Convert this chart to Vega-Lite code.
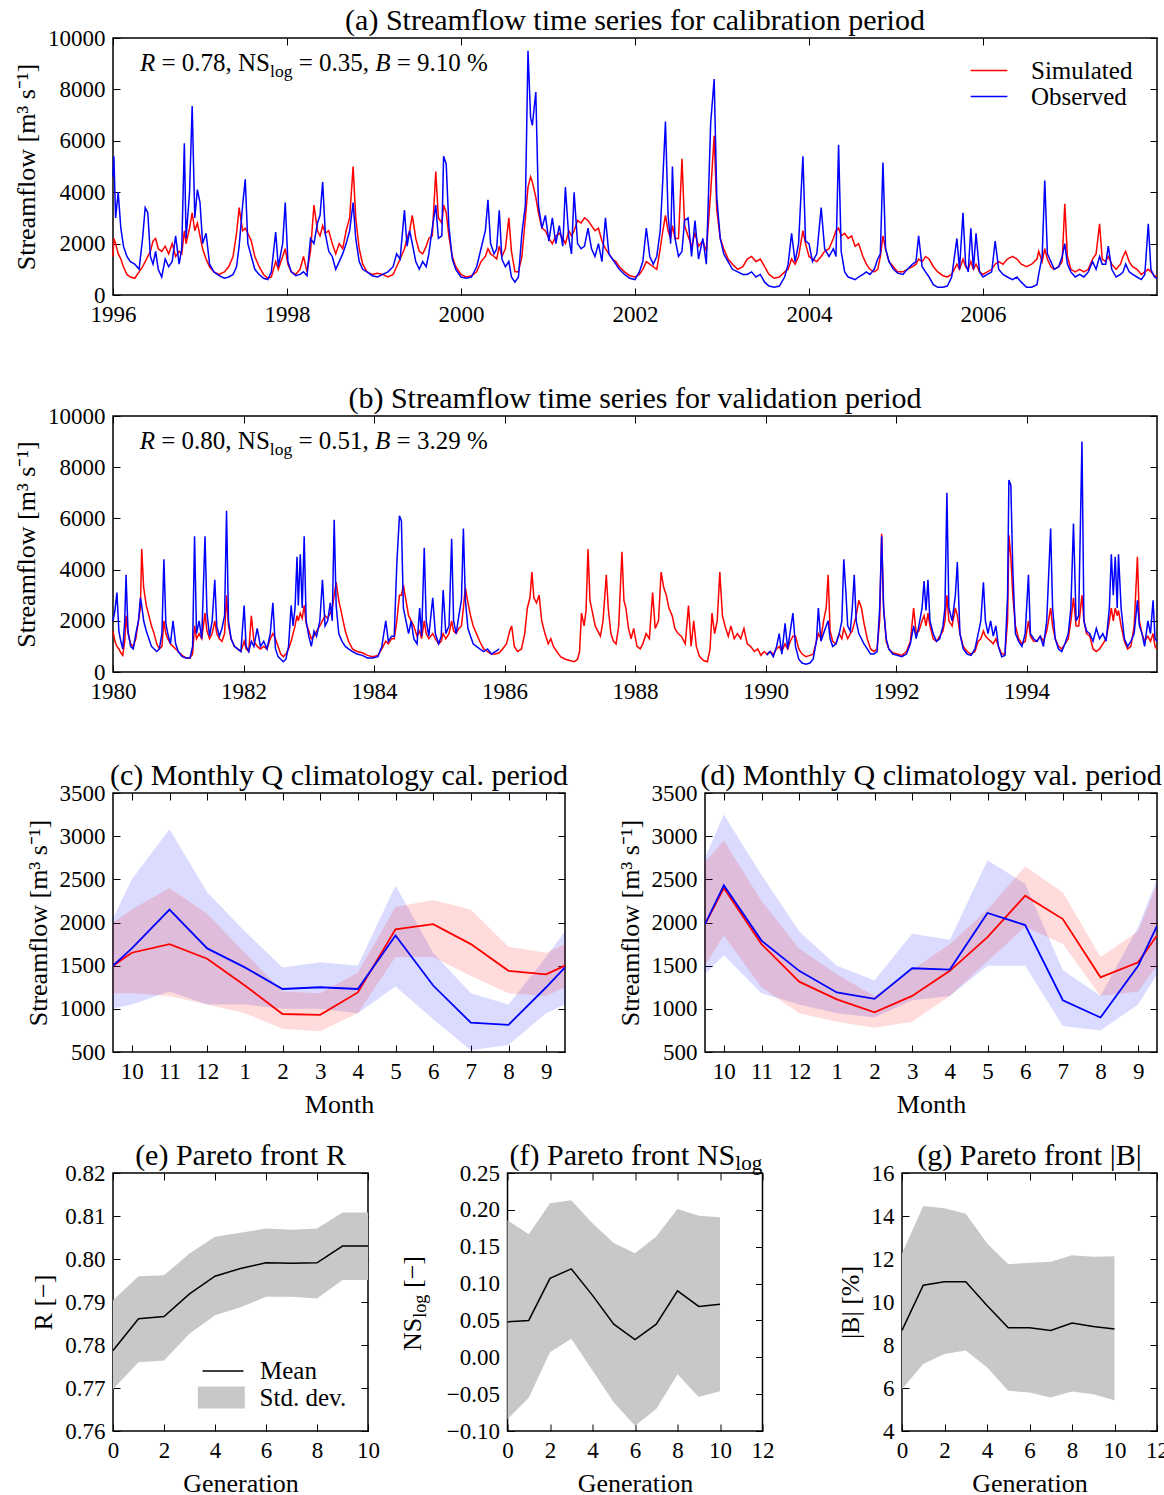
{
  "$schema": "https://vega.github.io/schema/vega-lite/v6.json",
  "background": "white",
  "padding": {"left": 12, "top": 5, "right": 0, "bottom": 5},
  "spacing": 22,
  "resolve": {"scale": {"color": "independent", "stroke": "independent", "fill": "independent"}, "legend": {"color": "independent", "stroke": "independent", "fill": "independent"}},
  "config": {
    "font": "Liberation Serif",
    "view": {"stroke": "black", "strokeWidth": 1.5},
    "axis": {
      "grid": false, "domain": false,
      "labelFont": "Liberation Serif", "labelFontSize": 23, "labelColor": "black",
      "titleFont": "Liberation Serif", "titleFontSize": 26, "titleFontWeight": "normal", "titleColor": "black",
      "tickColor": "black", "tickSize": -7, "tickWidth": 1, "labelPadding": 15, "titlePadding": 8,
      "labelFlush": false, "labelOverlap": false
    },
    "title": {"font": "Liberation Serif", "fontSize": 30, "fontWeight": "normal", "color": "black", "baseline": "alphabetic", "offset": -9, "frame": "group"},
    "legend": {"labelFont": "Liberation Serif", "labelFontSize": 25, "labelColor": "black", "padding": 0, "rowPadding": 0}
  },
  "datasets": {
    "cal": [
      {"t":1996.00,"s":1500,"o":4600},{"t":1996.01,"s":2200,"o":5400},{"t":1996.03,"s":2000,"o":3000},{"t":1996.06,"s":1600,"o":4000},
      {"t":1996.09,"s":1400,"o":2600},{"t":1996.12,"s":1100,"o":1900},{"t":1996.16,"s":800,"o":1500},{"t":1996.20,"s":700,"o":1300},
      {"t":1996.25,"s":650,"o":1200},{"t":1996.30,"s":900,"o":1000},{"t":1996.34,"s":1100,"o":2200},{"t":1996.37,"s":1300,"o":3400},
      {"t":1996.40,"s":1500,"o":3200},{"t":1996.43,"s":1700,"o":1500},{"t":1996.46,"s":2100,"o":1200},{"t":1996.49,"s":2200,"o":1700},
      {"t":1996.52,"s":1800,"o":1000},{"t":1996.56,"s":1700,"o":700},{"t":1996.60,"s":1900,"o":1400},{"t":1996.64,"s":1600,"o":1100},
      {"t":1996.68,"s":2000,"o":1300},{"t":1996.72,"s":1500,"o":2300},{"t":1996.76,"s":1700,"o":1200},{"t":1996.79,"s":1600,"o":1800},
      {"t":1996.82,"s":2500,"o":5900},{"t":1996.84,"s":2000,"o":2200},{"t":1996.88,"s":2600,"o":4000},{"t":1996.91,"s":3200,"o":7350},
      {"t":1996.94,"s":2500,"o":3000},{"t":1996.97,"s":2800,"o":4100},{"t":1997.00,"s":2300,"o":3600},{"t":1997.03,"s":1800,"o":2000},
      {"t":1997.07,"s":1400,"o":2400},{"t":1997.11,"s":1100,"o":1200},{"t":1997.16,"s":900,"o":900},{"t":1997.22,"s":800,"o":750},
      {"t":1997.28,"s":900,"o":650},{"t":1997.33,"s":1100,"o":700},{"t":1997.38,"s":1500,"o":800},{"t":1997.42,"s":2400,"o":1100},
      {"t":1997.45,"s":3400,"o":1900},{"t":1997.49,"s":2500,"o":3500},{"t":1997.52,"s":2600,"o":4500},{"t":1997.55,"s":2400,"o":2000},
      {"t":1997.59,"s":2100,"o":1500},{"t":1997.63,"s":1500,"o":1000},{"t":1997.68,"s":1100,"o":800},{"t":1997.73,"s":800,"o":650},
      {"t":1997.78,"s":650,"o":600},{"t":1997.82,"s":700,"o":900},{"t":1997.87,"s":1300,"o":2450},{"t":1997.90,"s":1000,"o":1100},
      {"t":1997.95,"s":1500,"o":2000},{"t":1997.98,"s":1800,"o":3600},{"t":1998.01,"s":1200,"o":1300},{"t":1998.05,"s":900,"o":900},
      {"t":1998.10,"s":800,"o":750},{"t":1998.15,"s":1000,"o":800},{"t":1998.19,"s":1500,"o":900},{"t":1998.23,"s":900,"o":750},
      {"t":1998.27,"s":1700,"o":2200},{"t":1998.31,"s":3500,"o":2000},{"t":1998.35,"s":2500,"o":2800},{"t":1998.38,"s":2300,"o":3100},
      {"t":1998.41,"s":2700,"o":4400},{"t":1998.44,"s":2400,"o":2400},{"t":1998.48,"s":2500,"o":1700},{"t":1998.52,"s":2000,"o":1500},
      {"t":1998.56,"s":1600,"o":1000},{"t":1998.60,"s":2000,"o":1300},{"t":1998.64,"s":1800,"o":1600},{"t":1998.68,"s":2500,"o":2000},
      {"t":1998.72,"s":3000,"o":2500},{"t":1998.76,"s":5000,"o":3600},{"t":1998.79,"s":3000,"o":2200},{"t":1998.83,"s":1800,"o":1300},
      {"t":1998.87,"s":1200,"o":1000},{"t":1998.92,"s":900,"o":900},{"t":1998.98,"s":800,"o":750},{"t":1999.04,"s":850,"o":700},
      {"t":1999.10,"s":800,"o":800},{"t":1999.16,"s":700,"o":900},{"t":1999.22,"s":800,"o":1100},{"t":1999.26,"s":1100,"o":1600},
      {"t":1999.30,"s":1400,"o":1400},{"t":1999.35,"s":1800,"o":3300},{"t":1999.38,"s":2200,"o":1900},{"t":1999.41,"s":2500,"o":2500},
      {"t":1999.44,"s":3100,"o":2000},{"t":1999.48,"s":2200,"o":1300},{"t":1999.52,"s":1700,"o":1000},{"t":1999.56,"s":1600,"o":1300},
      {"t":1999.60,"s":1900,"o":1100},{"t":1999.63,"s":2200,"o":1600},{"t":1999.67,"s":2300,"o":2600},{"t":1999.71,"s":4800,"o":3500},
      {"t":1999.74,"s":3000,"o":2200},{"t":1999.78,"s":2800,"o":2300},{"t":1999.80,"s":3500,"o":5400},{"t":1999.83,"s":3200,"o":5100},
      {"t":1999.86,"s":2300,"o":2700},{"t":1999.90,"s":1500,"o":1400},{"t":1999.94,"s":1100,"o":1000},{"t":2000.00,"s":800,"o":700},
      {"t":2000.06,"s":700,"o":650},{"t":2000.12,"s":750,"o":700},{"t":2000.18,"s":900,"o":1100},{"t":2000.23,"s":1300,"o":1800},
      {"t":2000.28,"s":1500,"o":2500},{"t":2000.31,"s":1800,"o":3700},{"t":2000.34,"s":1600,"o":2000},{"t":2000.38,"s":1500,"o":1600},
      {"t":2000.41,"s":1400,"o":1800},{"t":2000.44,"s":1900,"o":3300},{"t":2000.47,"s":1500,"o":1400},{"t":2000.51,"s":1800,"o":1100},
      {"t":2000.55,"s":3000,"o":1300},{"t":2000.58,"s":1700,"o":700},{"t":2000.62,"s":900,"o":500},{"t":2000.66,"s":900,"o":700},
      {"t":2000.70,"s":1500,"o":2400},{"t":2000.74,"s":3000,"o":3500},{"t":2000.77,"s":4200,"o":9500},{"t":2000.80,"s":4600,"o":6900},
      {"t":2000.82,"s":4400,"o":6600},{"t":2000.86,"s":3800,"o":7900},{"t":2000.89,"s":3200,"o":3500},{"t":2000.93,"s":2600,"o":2600},
      {"t":2000.97,"s":2500,"o":3100},{"t":2001.01,"s":2200,"o":2100},{"t":2001.05,"s":2000,"o":3000},{"t":2001.09,"s":2300,"o":2000},
      {"t":2001.13,"s":2400,"o":2700},{"t":2001.17,"s":2200,"o":1900},{"t":2001.20,"s":2000,"o":4200},{"t":2001.24,"s":2500,"o":2200},
      {"t":2001.27,"s":2300,"o":1600},{"t":2001.30,"s":2500,"o":4000},{"t":2001.34,"s":2900,"o":2000},{"t":2001.38,"s":2800,"o":1800},
      {"t":2001.42,"s":3000,"o":1900},{"t":2001.46,"s":2900,"o":2600},{"t":2001.50,"s":2700,"o":1800},{"t":2001.54,"s":2500,"o":1500},
      {"t":2001.58,"s":2600,"o":2000},{"t":2001.62,"s":2100,"o":1300},{"t":2001.66,"s":1800,"o":3000},{"t":2001.70,"s":1600,"o":1600},
      {"t":2001.74,"s":1400,"o":1400},{"t":2001.78,"s":1300,"o":1200},{"t":2001.82,"s":1100,"o":1000},{"t":2001.88,"s":900,"o":800},
      {"t":2001.94,"s":750,"o":650},{"t":2002.00,"s":700,"o":600},{"t":2002.05,"s":800,"o":900},{"t":2002.09,"s":1000,"o":1300},
      {"t":2002.13,"s":1300,"o":2600},{"t":2002.17,"s":1200,"o":1500},{"t":2002.21,"s":1100,"o":1200},{"t":2002.25,"s":1000,"o":1500},
      {"t":2002.29,"s":1800,"o":2500},{"t":2002.32,"s":2500,"o":4500},{"t":2002.35,"s":3100,"o":6750},{"t":2002.38,"s":2500,"o":3100},
      {"t":2002.41,"s":2200,"o":2000},{"t":2002.43,"s":2700,"o":5000},{"t":2002.46,"s":2200,"o":2200},{"t":2002.50,"s":2200,"o":1500},
      {"t":2002.54,"s":5300,"o":1700},{"t":2002.57,"s":2700,"o":2900},{"t":2002.61,"s":2300,"o":3000},{"t":2002.65,"s":1900,"o":1500},
      {"t":2002.69,"s":2400,"o":2900},{"t":2002.73,"s":1900,"o":1400},{"t":2002.78,"s":2100,"o":2200},{"t":2002.82,"s":1700,"o":1200},
      {"t":2002.87,"s":4000,"o":6700},{"t":2002.91,"s":6200,"o":8400},{"t":2002.94,"s":3300,"o":3800},{"t":2002.98,"s":2200,"o":2200},
      {"t":2003.02,"s":1800,"o":1600},{"t":2003.07,"s":1400,"o":1300},{"t":2003.12,"s":1200,"o":1000},{"t":2003.18,"s":1000,"o":900},
      {"t":2003.24,"s":1100,"o":800},{"t":2003.29,"s":1400,"o":800},{"t":2003.34,"s":1500,"o":900},{"t":2003.39,"s":1300,"o":700},
      {"t":2003.44,"s":1400,"o":800},{"t":2003.49,"s":1100,"o":500},{"t":2003.54,"s":800,"o":350},{"t":2003.60,"s":650,"o":300},
      {"t":2003.66,"s":700,"o":350},{"t":2003.72,"s":900,"o":700},{"t":2003.76,"s":1000,"o":1200},{"t":2003.80,"s":1400,"o":2400},
      {"t":2003.84,"s":1200,"o":1300},{"t":2003.88,"s":1500,"o":2000},{"t":2003.93,"s":2500,"o":5400},{"t":2003.96,"s":2000,"o":2100},
      {"t":2004.00,"s":1500,"o":2000},{"t":2004.04,"s":1400,"o":1300},{"t":2004.09,"s":1300,"o":1600},{"t":2004.14,"s":1500,"o":3400},
      {"t":2004.18,"s":1700,"o":1800},{"t":2004.23,"s":1800,"o":1500},{"t":2004.28,"s":2200,"o":1800},{"t":2004.31,"s":2500,"o":1500},
      {"t":2004.34,"s":2600,"o":5850},{"t":2004.37,"s":2300,"o":1700},{"t":2004.41,"s":2400,"o":900},{"t":2004.45,"s":2200,"o":700},
      {"t":2004.49,"s":2300,"o":650},{"t":2004.53,"s":1900,"o":600},{"t":2004.57,"s":2000,"o":700},{"t":2004.62,"s":1500,"o":800},
      {"t":2004.66,"s":1200,"o":900},{"t":2004.70,"s":1000,"o":800},{"t":2004.75,"s":900,"o":1000},{"t":2004.79,"s":1000,"o":1400},
      {"t":2004.82,"s":1500,"o":1600},{"t":2004.85,"s":2300,"o":5150},{"t":2004.88,"s":1800,"o":1800},{"t":2004.92,"s":1300,"o":1300},
      {"t":2004.97,"s":1100,"o":1000},{"t":2005.02,"s":900,"o":850},{"t":2005.08,"s":900,"o":800},{"t":2005.13,"s":1000,"o":1000},
      {"t":2005.19,"s":1100,"o":1200},{"t":2005.23,"s":1200,"o":1300},{"t":2005.26,"s":1400,"o":2300},{"t":2005.30,"s":1300,"o":1100},
      {"t":2005.34,"s":1500,"o":900},{"t":2005.38,"s":1400,"o":700},{"t":2005.43,"s":1100,"o":400},{"t":2005.48,"s":900,"o":300},
      {"t":2005.54,"s":750,"o":300},{"t":2005.59,"s":700,"o":350},{"t":2005.64,"s":800,"o":700},{"t":2005.70,"s":1200,"o":2200},
      {"t":2005.73,"s":1000,"o":1000},{"t":2005.77,"s":1400,"o":3200},{"t":2005.80,"s":1100,"o":1200},{"t":2005.83,"s":1000,"o":900},
      {"t":2005.86,"s":1300,"o":2600},{"t":2005.89,"s":1000,"o":1000},{"t":2005.92,"s":1200,"o":2400},{"t":2005.96,"s":900,"o":900},
      {"t":2006.00,"s":800,"o":700},{"t":2006.05,"s":900,"o":800},{"t":2006.10,"s":1000,"o":900},{"t":2006.14,"s":1200,"o":2100},
      {"t":2006.18,"s":1300,"o":1000},{"t":2006.23,"s":1200,"o":800},{"t":2006.28,"s":1400,"o":700},{"t":2006.34,"s":1500,"o":600},
      {"t":2006.39,"s":1400,"o":700},{"t":2006.44,"s":1200,"o":500},{"t":2006.50,"s":1100,"o":300},{"t":2006.56,"s":1200,"o":300},
      {"t":2006.62,"s":1400,"o":400},{"t":2006.64,"s":1700,"o":800},{"t":2006.68,"s":1300,"o":1500},{"t":2006.71,"s":1800,"o":4450},
      {"t":2006.74,"s":1400,"o":1600},{"t":2006.78,"s":1100,"o":1300},{"t":2006.82,"s":1000,"o":1000},{"t":2006.87,"s":1100,"o":1100},
      {"t":2006.91,"s":1300,"o":1500},{"t":2006.94,"s":3550,"o":2000},{"t":2006.97,"s":1500,"o":1200},{"t":2007.01,"s":1000,"o":900},
      {"t":2007.06,"s":900,"o":700},{"t":2007.11,"s":1000,"o":800},{"t":2007.16,"s":900,"o":700},{"t":2007.21,"s":1000,"o":900},
      {"t":2007.26,"s":1400,"o":1300},{"t":2007.30,"s":1600,"o":1000},{"t":2007.34,"s":2770,"o":1500},{"t":2007.37,"s":1400,"o":1200},
      {"t":2007.41,"s":1300,"o":1200},{"t":2007.44,"s":1500,"o":1900},{"t":2007.48,"s":1200,"o":1000},{"t":2007.53,"s":1000,"o":700},
      {"t":2007.58,"s":1200,"o":800},{"t":2007.61,"s":1500,"o":900},{"t":2007.64,"s":1700,"o":1200},{"t":2007.68,"s":1300,"o":900},
      {"t":2007.72,"s":1100,"o":800},{"t":2007.77,"s":1000,"o":700},{"t":2007.82,"s":800,"o":600},{"t":2007.86,"s":900,"o":800},
      {"t":2007.90,"s":1000,"o":2770},{"t":2007.93,"s":900,"o":1000},{"t":2007.97,"s":750,"o":700},{"t":2008.00,"s":700,"o":650}
    ],
    "val": [
      {"t":1980.00,"s":1600,"o":2000},{"t":1980.03,"s":1200,"o":2400},{"t":1980.06,"s":1000,"o":3100},{"t":1980.09,"s":900,"o":1600},
      {"t":1980.12,"s":750,"o":1200},{"t":1980.15,"s":650,"o":900},{"t":1980.18,"s":1200,"o":2000},{"t":1980.20,"s":2200,"o":3800},
      {"t":1980.23,"s":1500,"o":1600},{"t":1980.27,"s":1100,"o":1000},{"t":1980.31,"s":1000,"o":900},{"t":1980.35,"s":1300,"o":1500},
      {"t":1980.39,"s":2000,"o":2000},{"t":1980.42,"s":2500,"o":2900},{"t":1980.44,"s":4800,"o":2600},{"t":1980.47,"s":3300,"o":2000},
      {"t":1980.51,"s":2600,"o":1600},{"t":1980.55,"s":2200,"o":1300},{"t":1980.59,"s":1800,"o":1000},{"t":1980.63,"s":1500,"o":900},
      {"t":1980.67,"s":1100,"o":800},{"t":1980.71,"s":900,"o":900},{"t":1980.75,"s":1000,"o":1500},{"t":1980.78,"s":2000,"o":4400},
      {"t":1980.81,"s":1500,"o":1900},{"t":1980.84,"s":1300,"o":1500},{"t":1980.88,"s":1100,"o":1100},{"t":1980.92,"s":1000,"o":2000},
      {"t":1980.96,"s":900,"o":1100},{"t":1981.00,"s":800,"o":800},{"t":1981.06,"s":650,"o":600},{"t":1981.12,"s":550,"o":550},
      {"t":1981.18,"s":550,"o":550},{"t":1981.22,"s":700,"o":1000},{"t":1981.25,"s":1800,"o":5300},{"t":1981.28,"s":1300,"o":1500},
      {"t":1981.32,"s":1500,"o":2000},{"t":1981.36,"s":1300,"o":1300},{"t":1981.41,"s":2300,"o":5300},{"t":1981.44,"s":1600,"o":2300},
      {"t":1981.48,"s":1300,"o":1400},{"t":1981.52,"s":1500,"o":2000},{"t":1981.56,"s":2000,"o":3600},{"t":1981.59,"s":1500,"o":1800},
      {"t":1981.63,"s":1300,"o":1400},{"t":1981.67,"s":1200,"o":1700},{"t":1981.71,"s":1500,"o":2200},{"t":1981.74,"s":3000,"o":6300},
      {"t":1981.77,"s":1800,"o":2000},{"t":1981.81,"s":1300,"o":1300},{"t":1981.86,"s":1000,"o":1000},{"t":1981.91,"s":900,"o":900},
      {"t":1981.96,"s":800,"o":800},{"t":1982.01,"s":1200,"o":2600},{"t":1982.04,"s":900,"o":1000},{"t":1982.08,"s":800,"o":800},
      {"t":1982.12,"s":2200,"o":1200},{"t":1982.16,"s":1200,"o":1000},{"t":1982.21,"s":1000,"o":1700},{"t":1982.26,"s":900,"o":1000},
      {"t":1982.31,"s":1000,"o":1200},{"t":1982.36,"s":900,"o":900},{"t":1982.41,"s":1300,"o":1500},{"t":1982.45,"s":1500,"o":2700},
      {"t":1982.49,"s":1300,"o":900},{"t":1982.53,"s":1000,"o":600},{"t":1982.57,"s":700,"o":500},{"t":1982.61,"s":600,"o":400},
      {"t":1982.65,"s":700,"o":500},{"t":1982.69,"s":900,"o":1000},{"t":1982.73,"s":1200,"o":2600},{"t":1982.76,"s":1500,"o":1800},
      {"t":1982.79,"s":1800,"o":2500},{"t":1982.82,"s":2200,"o":4500},{"t":1982.84,"s":2000,"o":2600},{"t":1982.87,"s":2300,"o":4600},
      {"t":1982.90,"s":2100,"o":2500},{"t":1982.93,"s":2600,"o":5300},{"t":1982.96,"s":1900,"o":2000},{"t":1983.00,"s":1600,"o":1400},
      {"t":1983.04,"s":1300,"o":1000},{"t":1983.08,"s":1400,"o":1600},{"t":1983.12,"s":1600,"o":1400},{"t":1983.17,"s":1800,"o":2000},
      {"t":1983.21,"s":2000,"o":3600},{"t":1983.25,"s":2200,"o":1800},{"t":1983.29,"s":2100,"o":2000},{"t":1983.33,"s":2300,"o":2700},
      {"t":1983.36,"s":2500,"o":2000},{"t":1983.39,"s":3000,"o":5950},{"t":1983.42,"s":3500,"o":2600},{"t":1983.46,"s":2800,"o":1500},
      {"t":1983.51,"s":2200,"o":1200},{"t":1983.56,"s":1600,"o":1000},{"t":1983.61,"s":1200,"o":900},{"t":1983.67,"s":900,"o":800},
      {"t":1983.74,"s":800,"o":700},{"t":1983.82,"s":750,"o":650},{"t":1983.90,"s":650,"o":550},{"t":1983.98,"s":600,"o":550},
      {"t":1984.06,"s":650,"o":600},{"t":1984.12,"s":900,"o":1000},{"t":1984.18,"s":1200,"o":2000},{"t":1984.22,"s":1100,"o":1200},
      {"t":1984.27,"s":1300,"o":1400},{"t":1984.31,"s":1300,"o":1400},{"t":1984.35,"s":2000,"o":4250},{"t":1984.39,"s":3000,"o":6100},
      {"t":1984.42,"s":3000,"o":5900},{"t":1984.45,"s":3400,"o":2500},{"t":1984.49,"s":2800,"o":2000},{"t":1984.53,"s":2200,"o":1500},
      {"t":1984.57,"s":2000,"o":2000},{"t":1984.61,"s":1800,"o":1300},{"t":1984.66,"s":1400,"o":1100},{"t":1984.70,"s":1600,"o":2500},
      {"t":1984.73,"s":1300,"o":1400},{"t":1984.77,"s":2000,"o":4850},{"t":1984.80,"s":1500,"o":2000},{"t":1984.84,"s":1300,"o":1400},
      {"t":1984.90,"s":1500,"o":2900},{"t":1984.94,"s":1300,"o":1500},{"t":1984.99,"s":1100,"o":1100},{"t":1985.03,"s":1200,"o":1400},
      {"t":1985.06,"s":1500,"o":3200},{"t":1985.10,"s":1300,"o":1500},{"t":1985.15,"s":1500,"o":1800},{"t":1985.19,"s":2000,"o":5200},
      {"t":1985.22,"s":1600,"o":2000},{"t":1985.26,"s":1500,"o":1500},{"t":1985.30,"s":1700,"o":2200},{"t":1985.34,"s":1800,"o":2800},
      {"t":1985.37,"s":2500,"o":5600},{"t":1985.40,"s":3300,"o":2800},{"t":1985.44,"s":2700,"o":1700},{"t":1985.48,"s":2200,"o":1400},
      {"t":1985.52,"s":1800,"o":1100},{"t":1985.57,"s":1500,"o":1000},{"t":1985.62,"s":1200,"o":900},{"t":1985.68,"s":900,"o":800},
      {"t":1985.74,"s":800,"o":900},{"t":1985.80,"s":700,"o":700},{"t":1985.86,"s":700,"o":800},{"t":1985.92,"s":750,"o":900},
      {"t":1985.97,"s":900},{"t":1986.03,"s":1100},{"t":1986.08,"s":1600},{"t":1986.11,"s":1800},{"t":1986.15,"s":1000},
      {"t":1986.20,"s":800},{"t":1986.26,"s":900},{"t":1986.31,"s":1500},{"t":1986.35,"s":2500},{"t":1986.39,"s":2900},
      {"t":1986.42,"s":3900},{"t":1986.45,"s":2900},{"t":1986.49,"s":2700},{"t":1986.53,"s":3000},{"t":1986.57,"s":2000},
      {"t":1986.62,"s":1500},{"t":1986.67,"s":1100},{"t":1986.71,"s":1300},{"t":1986.75,"s":1000},{"t":1986.80,"s":800},
      {"t":1986.86,"s":600},{"t":1986.93,"s":500},{"t":1987.00,"s":450},{"t":1987.07,"s":400},{"t":1987.12,"s":500},
      {"t":1987.15,"s":800},{"t":1987.18,"s":2300},{"t":1987.22,"s":1800},{"t":1987.25,"s":2400},{"t":1987.28,"s":4800},
      {"t":1987.31,"s":2800},{"t":1987.35,"s":2300},{"t":1987.39,"s":1800},{"t":1987.43,"s":1600},{"t":1987.47,"s":1400},
      {"t":1987.51,"s":2000},{"t":1987.56,"s":3800},{"t":1987.59,"s":2500},{"t":1987.63,"s":1500},{"t":1987.67,"s":1200},
      {"t":1987.71,"s":1100},{"t":1987.75,"s":1800},{"t":1987.80,"s":4700},{"t":1987.83,"s":2800},{"t":1987.86,"s":2500},
      {"t":1987.90,"s":1700},{"t":1987.94,"s":1300},{"t":1987.98,"s":1700},{"t":1988.03,"s":1000},{"t":1988.08,"s":900},
      {"t":1988.12,"s":1100},{"t":1988.17,"s":1500},{"t":1988.22,"s":1300},{"t":1988.27,"s":3100},{"t":1988.31,"s":1700},
      {"t":1988.36,"s":2000},{"t":1988.40,"s":3900},{"t":1988.44,"s":3300},{"t":1988.48,"s":3000},{"t":1988.52,"s":2500},
      {"t":1988.57,"s":2200},{"t":1988.61,"s":1700},{"t":1988.66,"s":1500},{"t":1988.71,"s":1400},{"t":1988.77,"s":1100},
      {"t":1988.82,"s":2600},{"t":1988.86,"s":1000},{"t":1988.90,"s":2000},{"t":1988.94,"s":1000},{"t":1988.99,"s":600},
      {"t":1989.05,"s":450},{"t":1989.11,"s":400},{"t":1989.15,"s":900},{"t":1989.18,"s":2300},{"t":1989.22,"s":1500},
      {"t":1989.26,"s":2000},{"t":1989.30,"s":3900},{"t":1989.34,"s":2200},{"t":1989.38,"s":1800},{"t":1989.43,"s":1400},
      {"t":1989.47,"s":1800},{"t":1989.52,"s":1300},{"t":1989.57,"s":1500},{"t":1989.62,"s":1300},{"t":1989.67,"s":1700},
      {"t":1989.72,"s":1100},{"t":1989.77,"s":1000},{"t":1989.83,"s":800},{"t":1989.88,"s":900},{"t":1989.93,"s":650},
      {"t":1989.98,"s":800},
      {"t":1990.02,"s":700,"o":650},{"t":1990.07,"s":800,"o":800},{"t":1990.12,"s":700,"o":600},{"t":1990.17,"s":900,"o":1000},
      {"t":1990.21,"s":1000,"o":1500},{"t":1990.25,"s":800,"o":700},{"t":1990.30,"s":1100,"o":1900},{"t":1990.34,"s":900,"o":900},
      {"t":1990.38,"s":1200,"o":1600},{"t":1990.42,"s":1400,"o":2300},{"t":1990.46,"s":1400,"o":1000},{"t":1990.51,"s":900,"o":500},
      {"t":1990.56,"s":700,"o":350},{"t":1990.62,"s":600,"o":300},{"t":1990.68,"s":650,"o":350},{"t":1990.73,"s":700,"o":500},
      {"t":1990.78,"s":1200,"o":1200},{"t":1990.81,"s":1500,"o":2500},{"t":1990.85,"s":1300,"o":1200},{"t":1990.89,"s":2000,"o":1500},
      {"t":1990.93,"s":2500,"o":1800},{"t":1990.96,"s":3800,"o":2000},{"t":1990.99,"s":1600,"o":1300},{"t":1991.03,"s":1200,"o":1000},
      {"t":1991.08,"s":1100,"o":1100},{"t":1991.13,"s":1500,"o":1500},{"t":1991.17,"s":1300,"o":2000},{"t":1991.20,"s":1700,"o":4400},
      {"t":1991.23,"s":1500,"o":3200},{"t":1991.26,"s":1300,"o":1800},{"t":1991.30,"s":1500,"o":1600},{"t":1991.33,"s":1600,"o":2500},
      {"t":1991.36,"s":1900,"o":3800},{"t":1991.39,"s":2200,"o":2000},{"t":1991.43,"s":2800,"o":1500},{"t":1991.47,"s":2500,"o":1300},
      {"t":1991.51,"s":1900,"o":1100},{"t":1991.56,"s":1300,"o":900},{"t":1991.61,"s":900,"o":700},{"t":1991.66,"s":800,"o":700},
      {"t":1991.71,"s":900,"o":800},{"t":1991.75,"s":2000,"o":2500},{"t":1991.78,"s":5400,"o":5300},{"t":1991.81,"s":2500,"o":2500},
      {"t":1991.85,"s":1200,"o":1300},{"t":1991.89,"s":900,"o":900},{"t":1991.95,"s":750,"o":700},{"t":1992.02,"s":700,"o":650},
      {"t":1992.09,"s":650,"o":600},{"t":1992.16,"s":800,"o":700},{"t":1992.22,"s":1200,"o":1100},{"t":1992.27,"s":2500,"o":1800},
      {"t":1992.31,"s":1500,"o":1300},{"t":1992.35,"s":1600,"o":1800},{"t":1992.40,"s":2000,"o":2500},{"t":1992.43,"s":2200,"o":3550},
      {"t":1992.46,"s":1800,"o":2400},{"t":1992.49,"s":2300,"o":3600},{"t":1992.52,"s":1800,"o":2000},{"t":1992.57,"s":1300,"o":1500},
      {"t":1992.62,"s":1200,"o":1200},{"t":1992.67,"s":1400,"o":1300},{"t":1992.72,"s":1600,"o":1800},{"t":1992.75,"s":2000,"o":2500},
      {"t":1992.78,"s":3000,"o":7000},{"t":1992.81,"s":2000,"o":2500},{"t":1992.86,"s":1800,"o":2000},{"t":1992.91,"s":2500,"o":3000},
      {"t":1992.94,"s":2200,"o":4300},{"t":1992.98,"s":1500,"o":1500},{"t":1993.03,"s":1000,"o":900},{"t":1993.09,"s":800,"o":700},
      {"t":1993.15,"s":700,"o":650},{"t":1993.21,"s":800,"o":900},{"t":1993.26,"s":1200,"o":1500},{"t":1993.30,"s":1300,"o":2000},
      {"t":1993.34,"s":1600,"o":3500},{"t":1993.37,"s":1400,"o":2000},{"t":1993.41,"s":1300,"o":1500},{"t":1993.45,"s":1200,"o":2000},
      {"t":1993.49,"s":1100,"o":1400},{"t":1993.53,"s":1300,"o":1800},{"t":1993.57,"s":1000,"o":1000},{"t":1993.62,"s":700,"o":600},
      {"t":1993.67,"s":700,"o":650},{"t":1993.71,"s":2000,"o":3000},{"t":1993.73,"s":5350,"o":7500},{"t":1993.76,"s":4500,"o":7300},
      {"t":1993.79,"s":3000,"o":4000},{"t":1993.83,"s":1800,"o":1500},{"t":1993.88,"s":1300,"o":1200},{"t":1993.93,"s":1100,"o":1000},
      {"t":1993.98,"s":1200,"o":1500},{"t":1994.03,"s":2000,"o":3800},{"t":1994.06,"s":1400,"o":1500},{"t":1994.11,"s":1200,"o":1300},
      {"t":1994.16,"s":1200,"o":1200},{"t":1994.21,"s":1400,"o":1400},{"t":1994.26,"s":1200,"o":1000},{"t":1994.31,"s":1600,"o":2000},
      {"t":1994.37,"s":2500,"o":5600},{"t":1994.40,"s":1800,"o":2500},{"t":1994.44,"s":1300,"o":1300},{"t":1994.49,"s":1000,"o":900},
      {"t":1994.54,"s":900,"o":800},{"t":1994.59,"s":1100,"o":1100},{"t":1994.64,"s":1300,"o":1500},{"t":1994.68,"s":2000,"o":2500},
      {"t":1994.72,"s":2900,"o":5800},{"t":1994.76,"s":1800,"o":2000},{"t":1994.80,"s":1800,"o":2200},{"t":1994.85,"s":3000,"o":9000},
      {"t":1994.88,"s":2000,"o":2000},{"t":1994.92,"s":1500,"o":1600},{"t":1994.97,"s":1400,"o":1500},{"t":1995.02,"s":900,"o":1200},
      {"t":1995.07,"s":800,"o":1700},{"t":1995.12,"s":900,"o":1300},{"t":1995.17,"s":1100,"o":1500},{"t":1995.22,"s":1300,"o":1200},
      {"t":1995.27,"s":2000,"o":2500},{"t":1995.30,"s":2500,"o":4600},{"t":1995.33,"s":2000,"o":3000},{"t":1995.36,"s":2500,"o":4500},
      {"t":1995.39,"s":2200,"o":2500},{"t":1995.41,"s":2400,"o":4600},{"t":1995.45,"s":1800,"o":2500},{"t":1995.50,"s":1200,"o":1300},
      {"t":1995.55,"s":900,"o":1000},{"t":1995.60,"s":1000,"o":1200},{"t":1995.65,"s":1800,"o":1500},{"t":1995.70,"s":4500,"o":2800},
      {"t":1995.73,"s":2000,"o":1800},{"t":1995.77,"s":1500,"o":1500},{"t":1995.81,"s":1200,"o":1000},{"t":1995.86,"s":1400,"o":2000},
      {"t":1995.90,"s":1200,"o":1500},{"t":1995.94,"s":1500,"o":2800},{"t":1995.97,"s":1000,"o":1300},{"t":1996.00,"s":900,"o":1200}
    ],
    "climc": [
      {"p":0.5,"ms":1500,"ls":1180,"hs":2000,"mo":1500,"lo":1000,"ho":2050},
      {"p":1,"ms":1650,"ls":1180,"hs":2150,"mo":1700,"lo":1050,"ho":2500},
      {"p":2,"ms":1750,"ls":1150,"hs":2400,"mo":2150,"lo":1200,"ho":3080},
      {"p":3,"ms":1580,"ls":1050,"hs":2100,"mo":1700,"lo":1050,"ho":2350},
      {"p":4,"ms":1270,"ls":950,"hs":1650,"mo":1480,"lo":1050,"ho":1900},
      {"p":5,"ms":940,"ls":770,"hs":1200,"mo":1230,"lo":1000,"ho":1480},
      {"p":6,"ms":930,"ls":740,"hs":1180,"mo":1250,"lo":1000,"ho":1540},
      {"p":7,"ms":1190,"ls":950,"hs":1420,"mo":1230,"lo":950,"ho":1500},
      {"p":8,"ms":1920,"ls":1600,"hs":2180,"mo":1850,"lo":1260,"ho":2430},
      {"p":9,"ms":1980,"ls":1600,"hs":2260,"mo":1270,"lo":880,"ho":1650},
      {"p":10,"ms":1750,"ls":1380,"hs":2150,"mo":840,"lo":520,"ho":1180},
      {"p":11,"ms":1440,"ls":1180,"hs":1720,"mo":815,"lo":580,"ho":1050},
      {"p":12,"ms":1400,"ls":1150,"hs":1650,"mo":1250,"lo":950,"ho":1600},
      {"p":12.5,"ms":1500,"ls":1250,"hs":1750,"mo":1480,"lo":1050,"ho":1900}
    ],
    "climd": [
      {"p":0.5,"ms":1980,"ls":1500,"hs":2700,"mo":1980,"lo":1400,"ho":2750},
      {"p":1,"ms":2400,"ls":1850,"hs":2950,"mo":2430,"lo":1620,"ho":3250},
      {"p":2,"ms":1750,"ls":1250,"hs":2250,"mo":1790,"lo":1180,"ho":2550},
      {"p":3,"ms":1315,"ls":950,"hs":1700,"mo":1440,"lo":1050,"ho":1900},
      {"p":4,"ms":1110,"ls":850,"hs":1400,"mo":1190,"lo":950,"ho":1500},
      {"p":5,"ms":960,"ls":780,"hs":1150,"mo":1115,"lo":900,"ho":1330},
      {"p":6,"ms":1150,"ls":850,"hs":1450,"mo":1470,"lo":1100,"ho":1870},
      {"p":7,"ms":1440,"ls":1150,"hs":1750,"mo":1455,"lo":1150,"ho":1800},
      {"p":8,"ms":1830,"ls":1550,"hs":2150,"mo":2110,"lo":1500,"ho":2720},
      {"p":9,"ms":2310,"ls":1950,"hs":2650,"mo":1970,"lo":1500,"ho":2450},
      {"p":10,"ms":2040,"ls":1750,"hs":2350,"mo":1100,"lo":800,"ho":1450},
      {"p":11,"ms":1365,"ls":1150,"hs":1600,"mo":900,"lo":750,"ho":1150},
      {"p":12,"ms":1540,"ls":1200,"hs":1900,"mo":1500,"lo":1050,"ho":1950},
      {"p":12.5,"ms":1850,"ls":1500,"hs":2450,"mo":1960,"lo":1400,"ho":2500}
    ],
    "pe": [
      {"g":0,"m":0.7787,"lo":0.7697,"hi":0.7904},{"g":1,"m":0.7861,"lo":0.7760,"hi":0.7960},
      {"g":2,"m":0.7866,"lo":0.7764,"hi":0.7962},{"g":3,"m":0.7919,"lo":0.7826,"hi":0.8013},
      {"g":4,"m":0.7960,"lo":0.7869,"hi":0.8052},{"g":5,"m":0.7978,"lo":0.7888,"hi":0.8061},
      {"g":6,"m":0.7991,"lo":0.7912,"hi":0.8071},{"g":7,"m":0.7990,"lo":0.7912,"hi":0.8068},
      {"g":8,"m":0.7991,"lo":0.7908,"hi":0.8071},{"g":9,"m":0.8030,"lo":0.7951,"hi":0.8108},
      {"g":10,"m":0.8030,"lo":0.7951,"hi":0.8108}
    ],
    "pf": [
      {"g":0,"m":0.048,"lo":-0.084,"hi":0.186},{"g":1,"m":0.050,"lo":-0.055,"hi":0.167},
      {"g":2,"m":0.107,"lo":0.007,"hi":0.209},{"g":3,"m":0.120,"lo":0.025,"hi":0.213},
      {"g":4,"m":0.084,"lo":-0.018,"hi":0.182},{"g":5,"m":0.045,"lo":-0.061,"hi":0.155},
      {"g":6,"m":0.024,"lo":-0.093,"hi":0.141},{"g":7,"m":0.045,"lo":-0.070,"hi":0.164},
      {"g":8,"m":0.090,"lo":-0.023,"hi":0.201},{"g":9,"m":0.069,"lo":-0.054,"hi":0.192},
      {"g":10,"m":0.072,"lo":-0.046,"hi":0.190}
    ],
    "pg": [
      {"g":0,"m":8.68,"lo":5.95,"hi":12.26},{"g":1,"m":10.78,"lo":7.12,"hi":14.47},
      {"g":2,"m":10.94,"lo":7.58,"hi":14.36},{"g":3,"m":10.94,"lo":7.74,"hi":14.10},
      {"g":4,"m":9.84,"lo":6.96,"hi":12.73},{"g":5,"m":8.80,"lo":5.87,"hi":11.76},
      {"g":6,"m":8.80,"lo":5.79,"hi":11.82},{"g":7,"m":8.68,"lo":5.56,"hi":11.87},
      {"g":8,"m":9.02,"lo":5.84,"hi":12.18},{"g":9,"m":8.86,"lo":5.71,"hi":12.10},
      {"g":10,"m":8.74,"lo":5.43,"hi":12.13}
    ]
  },
  "vconcat": [
    {
      "width": 1044, "height": 257,
      "title": {"text": "(a) Streamflow time series for calibration period"},
      "data": {"name": "cal"},
      "layer": [
        {"mark": {"type": "line", "strokeWidth": 1.5},
         "encoding": {
           "x": {"field": "t", "type": "quantitative", "scale": {"domain": [1996, 2008], "nice": false, "zero": false},
                 "axis": {"orient": "bottom", "values": [1996, 1998, 2000, 2002, 2004, 2006], "format": "d", "title": " "}},
           "y": {"field": "s", "type": "quantitative", "scale": {"domain": [0, 10000], "nice": false},
                 "axis": {"orient": "left", "values": [0, 2000, 4000, 6000, 8000, 10000], "format": "d", "title": "Streamflow [m³ s⁻¹]"}},
           "color": {"datum": "Simulated", "type": "nominal",
                     "scale": {"domain": ["Simulated", "Observed"], "range": ["#ff0000", "#0000ff"]},
                     "legend": {"title": null, "orient": "none", "legendX": 863, "legendY": 19.5, "symbolType": "M-1.5,0H1.5", "symbolSize": 600,
                                "symbolStrokeWidth": 1.5, "labelOffset": 29, "labelFontSize": 25}}
         }},
        {"mark": {"type": "line", "strokeWidth": 1.5},
         "encoding": {
           "x": {"field": "t", "type": "quantitative", "axis": {"orient": "top", "values": [1996, 1998, 2000, 2002, 2004, 2006], "labels": false, "title": null}},
           "y": {"field": "o", "type": "quantitative", "axis": {"orient": "right", "values": [0, 2000, 4000, 6000, 8000, 10000], "labels": false, "title": null}},
           "color": {"datum": "Observed", "type": "nominal"}
         }},
        {"data": {"values": [{}]}, "mark": {"type": "text", "align": "left", "baseline": "alphabetic", "fontSize": 25, "fontStyle": "italic", "color": "black", "dx": 0},
         "encoding": {"x": {"datum": 1996.31, "type": "quantitative", "axis": null}, "y": {"datum": 8700, "type": "quantitative", "axis": null}, "text": {"value": "R"}}},
        {"data": {"values": [{}]}, "mark": {"type": "text", "align": "left", "baseline": "alphabetic", "fontSize": 25, "color": "black", "dx": 21.5},
         "encoding": {"x": {"datum": 1996.31, "type": "quantitative", "axis": null}, "y": {"datum": 8700, "type": "quantitative", "axis": null}, "text": {"value": "= 0.78, NS"}}},
        {"data": {"values": [{}]}, "mark": {"type": "text", "align": "left", "baseline": "alphabetic", "fontSize": 17.5, "color": "black", "dx": 130.1, "dy": 6},
         "encoding": {"x": {"datum": 1996.31, "type": "quantitative", "axis": null}, "y": {"datum": 8700, "type": "quantitative", "axis": null}, "text": {"value": "log"}}},
        {"data": {"values": [{}]}, "mark": {"type": "text", "align": "left", "baseline": "alphabetic", "fontSize": 25, "color": "black", "dx": 158.7},
         "encoding": {"x": {"datum": 1996.31, "type": "quantitative", "axis": null}, "y": {"datum": 8700, "type": "quantitative", "axis": null}, "text": {"value": "= 0.35,"}}},
        {"data": {"values": [{}]}, "mark": {"type": "text", "align": "left", "baseline": "alphabetic", "fontSize": 25, "fontStyle": "italic", "color": "black", "dx": 235.3},
         "encoding": {"x": {"datum": 1996.31, "type": "quantitative", "axis": null}, "y": {"datum": 8700, "type": "quantitative", "axis": null}, "text": {"value": "B"}}},
        {"data": {"values": [{}]}, "mark": {"type": "text", "align": "left", "baseline": "alphabetic", "fontSize": 25, "color": "black", "dx": 256.8},
         "encoding": {"x": {"datum": 1996.31, "type": "quantitative", "axis": null}, "y": {"datum": 8700, "type": "quantitative", "axis": null}, "text": {"value": "= 9.10 %"}}}
      ],
      "resolve": {"axis": {"x": "independent", "y": "independent"}}
    },
    {
      "width": 1044, "height": 256,
      "title": {"text": "(b) Streamflow time series for validation period"},
      "data": {"name": "val"},
      "layer": [
        {"mark": {"type": "line", "strokeWidth": 1.5, "color": "#ff0000", "invalid": "break-paths-filter-domains"},
         "encoding": {
           "x": {"field": "t", "type": "quantitative", "scale": {"domain": [1980, 1996], "nice": false, "zero": false},
                 "axis": {"orient": "bottom", "values": [1980, 1982, 1984, 1986, 1988, 1990, 1992, 1994], "format": "d", "title": " "}},
           "y": {"field": "s", "type": "quantitative", "scale": {"domain": [0, 10000], "nice": false},
                 "axis": {"orient": "left", "values": [0, 2000, 4000, 6000, 8000, 10000], "format": "d", "title": "Streamflow [m³ s⁻¹]"}}
         }},
        {"mark": {"type": "line", "strokeWidth": 1.5, "color": "#0000ff", "invalid": "break-paths-filter-domains"},
         "encoding": {
           "x": {"field": "t", "type": "quantitative", "axis": {"orient": "top", "values": [1980, 1982, 1984, 1986, 1988, 1990, 1992, 1994], "labels": false, "title": null}},
           "y": {"field": "o", "type": "quantitative", "axis": {"orient": "right", "values": [0, 2000, 4000, 6000, 8000, 10000], "labels": false, "title": null}}
         }},
        {"data": {"values": [{}]}, "mark": {"type": "text", "align": "left", "baseline": "alphabetic", "fontSize": 25, "fontStyle": "italic", "color": "black", "dx": 0},
         "encoding": {"x": {"datum": 1980.41, "type": "quantitative", "axis": null}, "y": {"datum": 8700, "type": "quantitative", "axis": null}, "text": {"value": "R"}}},
        {"data": {"values": [{}]}, "mark": {"type": "text", "align": "left", "baseline": "alphabetic", "fontSize": 25, "color": "black", "dx": 21.5},
         "encoding": {"x": {"datum": 1980.41, "type": "quantitative", "axis": null}, "y": {"datum": 8700, "type": "quantitative", "axis": null}, "text": {"value": "= 0.80, NS"}}},
        {"data": {"values": [{}]}, "mark": {"type": "text", "align": "left", "baseline": "alphabetic", "fontSize": 17.5, "color": "black", "dx": 130.1, "dy": 6},
         "encoding": {"x": {"datum": 1980.41, "type": "quantitative", "axis": null}, "y": {"datum": 8700, "type": "quantitative", "axis": null}, "text": {"value": "log"}}},
        {"data": {"values": [{}]}, "mark": {"type": "text", "align": "left", "baseline": "alphabetic", "fontSize": 25, "color": "black", "dx": 158.7},
         "encoding": {"x": {"datum": 1980.41, "type": "quantitative", "axis": null}, "y": {"datum": 8700, "type": "quantitative", "axis": null}, "text": {"value": "= 0.51,"}}},
        {"data": {"values": [{}]}, "mark": {"type": "text", "align": "left", "baseline": "alphabetic", "fontSize": 25, "fontStyle": "italic", "color": "black", "dx": 235.3},
         "encoding": {"x": {"datum": 1980.41, "type": "quantitative", "axis": null}, "y": {"datum": 8700, "type": "quantitative", "axis": null}, "text": {"value": "B"}}},
        {"data": {"values": [{}]}, "mark": {"type": "text", "align": "left", "baseline": "alphabetic", "fontSize": 25, "color": "black", "dx": 256.8},
         "encoding": {"x": {"datum": 1980.41, "type": "quantitative", "axis": null}, "y": {"datum": 8700, "type": "quantitative", "axis": null}, "text": {"value": "= 3.29 %"}}}
      ],
      "resolve": {"axis": {"x": "independent", "y": "independent"}}
    },
    {
      "hconcat": [
        {
          "width": 452, "height": 259,
          "title": {"text": "(c) Monthly Q climatology cal. period"},
          "data": {"name": "climc"},
          "layer": [
            {"mark": {"type": "area", "color": "#0000ff", "opacity": 0.14, "clip": true},
             "encoding": {
               "x": {"field": "p", "type": "quantitative", "scale": {"domain": [0.5, 12.5], "nice": false, "zero": false},
                     "axis": {"orient": "bottom", "values": [1,2,3,4,5,6,7,8,9,10,11,12], "labelExpr": "['10','11','12','1','2','3','4','5','6','7','8','9'][datum.value - 1]", "title": "Month"}},
               "y": {"field": "lo", "type": "quantitative", "scale": {"domain": [500, 3500], "nice": false, "zero": false},
                     "axis": {"orient": "left", "values": [500,1000,1500,2000,2500,3000,3500], "format": "d", "title": "Streamflow [m³ s⁻¹]"}},
               "y2": {"field": "ho"}
             }},
            {"mark": {"type": "area", "color": "#ff0000", "opacity": 0.14, "clip": true},
             "encoding": {
               "x": {"field": "p", "type": "quantitative", "axis": {"orient": "top", "values": [1,2,3,4,5,6,7,8,9,10,11,12], "labels": false, "title": null}},
               "y": {"field": "ls", "type": "quantitative", "axis": {"orient": "right", "values": [500,1000,1500,2000,2500,3000,3500], "labels": false, "title": null}},
               "y2": {"field": "hs"}
             }},
            {"mark": {"type": "line", "color": "#ff0000", "strokeWidth": 1.8, "clip": true},
             "encoding": {"x": {"field": "p", "type": "quantitative", "axis": null}, "y": {"field": "ms", "type": "quantitative", "axis": null}}},
            {"mark": {"type": "line", "color": "#0000ff", "strokeWidth": 1.8, "clip": true},
             "encoding": {"x": {"field": "p", "type": "quantitative", "axis": null}, "y": {"field": "mo", "type": "quantitative", "axis": null}}}
          ],
          "resolve": {"axis": {"x": "independent", "y": "independent"}}
        },
        {
          "width": 452, "height": 259,
          "title": {"text": "(d) Monthly Q climatology val. period"},
          "data": {"name": "climd"},
          "layer": [
            {"mark": {"type": "area", "color": "#0000ff", "opacity": 0.14, "clip": true},
             "encoding": {
               "x": {"field": "p", "type": "quantitative", "scale": {"domain": [0.5, 12.5], "nice": false, "zero": false},
                     "axis": {"orient": "bottom", "values": [1,2,3,4,5,6,7,8,9,10,11,12], "labelExpr": "['10','11','12','1','2','3','4','5','6','7','8','9'][datum.value - 1]", "title": "Month"}},
               "y": {"field": "lo", "type": "quantitative", "scale": {"domain": [500, 3500], "nice": false, "zero": false},
                     "axis": {"orient": "left", "values": [500,1000,1500,2000,2500,3000,3500], "format": "d", "title": "Streamflow [m³ s⁻¹]"}},
               "y2": {"field": "ho"}
             }},
            {"mark": {"type": "area", "color": "#ff0000", "opacity": 0.14, "clip": true},
             "encoding": {
               "x": {"field": "p", "type": "quantitative", "axis": {"orient": "top", "values": [1,2,3,4,5,6,7,8,9,10,11,12], "labels": false, "title": null}},
               "y": {"field": "ls", "type": "quantitative", "axis": {"orient": "right", "values": [500,1000,1500,2000,2500,3000,3500], "labels": false, "title": null}},
               "y2": {"field": "hs"}
             }},
            {"mark": {"type": "line", "color": "#ff0000", "strokeWidth": 1.8, "clip": true},
             "encoding": {"x": {"field": "p", "type": "quantitative", "axis": null}, "y": {"field": "ms", "type": "quantitative", "axis": null}}},
            {"mark": {"type": "line", "color": "#0000ff", "strokeWidth": 1.8, "clip": true},
             "encoding": {"x": {"field": "p", "type": "quantitative", "axis": null}, "y": {"field": "mo", "type": "quantitative", "axis": null}}}
          ],
          "resolve": {"axis": {"x": "independent", "y": "independent"}}
        }
      ],
      "spacing": 140,
      "bounds": "flush"
    },
    {
      "hconcat": [
        {
          "width": 255, "height": 258,
          "title": {"text": "(e) Pareto front R"},
          "data": {"name": "pe"},
          "layer": [
            {"mark": {"type": "area", "opacity": 1},
             "encoding": {
               "x": {"field": "g", "type": "quantitative", "scale": {"domain": [0, 10], "nice": false, "zero": false},
                     "axis": {"orient": "bottom", "values": [0,2,4,6,8,10], "title": "Generation"}},
               "y": {"field": "lo", "type": "quantitative", "scale": {"domain": [0.76, 0.82], "nice": false, "zero": false},
                     "axis": {"orient": "left", "values": [0.76,0.77,0.78,0.79,0.80,0.81,0.82], "format": ".2f", "title": "R [−]"}},
               "y2": {"field": "hi"},
               "fill": {"datum": "Std. dev.", "type": "nominal",
                        "scale": {"domain": ["Std. dev."], "range": ["#c8c8c8"]},
                        "legend": {"title": null, "orient": "none", "legendX": 95.8, "legendY": 212, "labelFontSize": 25,
                                   "symbolType": "M-2.1,-0.98H2.1V0.98H-2.1Z", "symbolSize": 500, "symbolStrokeWidth": 0,
                                   "symbolOpacity": 1, "labelOffset": 25.8}}
             }},
            {"mark": {"type": "line", "strokeWidth": 1.5},
             "encoding": {
               "x": {"field": "g", "type": "quantitative", "axis": {"orient": "top", "values": [0,2,4,6,8,10], "labels": false, "title": null}},
               "y": {"field": "m", "type": "quantitative", "axis": {"orient": "right", "values": [0.76,0.77,0.78,0.79,0.80,0.81,0.82], "labels": false, "title": null}},
               "stroke": {"datum": "Mean", "type": "nominal",
                          "scale": {"domain": ["Mean"], "range": ["#000000"]},
                          "legend": {"title": null, "orient": "none", "legendX": 97.5, "legendY": 185.5, "labelFontSize": 25,
                                     "symbolType": "M-2.05,0H2.05", "symbolSize": 400, "symbolStrokeWidth": 1.5, "labelOffset": 24.5}}
             }}
          ],
          "resolve": {"axis": {"x": "independent", "y": "independent"}}
        },
        {
          "width": 255, "height": 258,
          "title": {"text": "(f) Pareto front NS", "anchor": "start", "dx": 2, "dy": 9},
          "data": {"name": "pf"},
          "layer": [
            {"mark": {"type": "area", "color": "#c8c8c8", "opacity": 1},
             "encoding": {
               "x": {"field": "g", "type": "quantitative", "scale": {"domain": [0, 12], "nice": false, "zero": false},
                     "axis": {"orient": "bottom", "values": [0,2,4,6,8,10,12], "title": "Generation"}},
               "y": {"field": "lo", "type": "quantitative", "scale": {"domain": [-0.10, 0.25], "nice": false, "zero": false},
                     "axis": {"orient": "left", "values": [-0.10,-0.05,0,0.05,0.10,0.15,0.20,0.25], "format": ".2f", "title": null}},
               "y2": {"field": "hi"}
             }},
            {"mark": {"type": "line", "color": "#000000", "strokeWidth": 1.5},
             "encoding": {
               "x": {"field": "g", "type": "quantitative", "axis": {"orient": "top", "values": [0,2,4,6,8,10,12], "labels": false, "title": null}},
               "y": {"field": "m", "type": "quantitative", "axis": {"orient": "right", "values": [-0.10,-0.05,0,0.05,0.10,0.15,0.20,0.25], "labels": false, "title": null}}
             }},
            {"data": {"values": [{}]}, "mark": {"type": "text", "align": "left", "baseline": "alphabetic", "fontSize": 21, "color": "black", "dy": -3},
             "encoding": {"x": {"datum": 10.72, "type": "quantitative", "axis": null}, "y": {"datum": 0.25, "type": "quantitative", "axis": null}, "text": {"value": "log"}}},
            {"data": {"values": [{}]}, "mark": {"type": "text", "align": "left", "baseline": "alphabetic", "fontSize": 26, "color": "black", "angle": 270, "dx": 0, "dy": -87},
             "encoding": {"x": {"datum": 0, "type": "quantitative", "axis": null}, "y": {"datum": 0.0085, "type": "quantitative", "axis": null}, "text": {"value": "NS"}}},
            {"data": {"values": [{}]}, "mark": {"type": "text", "align": "left", "baseline": "alphabetic", "fontSize": 18.2, "color": "black", "angle": 270, "dx": 33.2, "dy": -82},
             "encoding": {"x": {"datum": 0, "type": "quantitative", "axis": null}, "y": {"datum": 0.0085, "type": "quantitative", "axis": null}, "text": {"value": "log"}}},
            {"data": {"values": [{}]}, "mark": {"type": "text", "align": "left", "baseline": "alphabetic", "fontSize": 26, "color": "black", "angle": 270, "dx": 63, "dy": -87},
             "encoding": {"x": {"datum": 0, "type": "quantitative", "axis": null}, "y": {"datum": 0.0085, "type": "quantitative", "axis": null}, "text": {"value": "[−]"}}}
          ],
          "resolve": {"axis": {"x": "independent", "y": "independent"}}
        },
        {
          "width": 255, "height": 258,
          "title": {"text": "(g) Pareto front |B|"},
          "data": {"name": "pg"},
          "layer": [
            {"mark": {"type": "area", "color": "#c8c8c8", "opacity": 1},
             "encoding": {
               "x": {"field": "g", "type": "quantitative", "scale": {"domain": [0, 12], "nice": false, "zero": false},
                     "axis": {"orient": "bottom", "values": [0,2,4,6,8,10,12], "title": "Generation"}},
               "y": {"field": "lo", "type": "quantitative", "scale": {"domain": [4, 16], "nice": false, "zero": false},
                     "axis": {"orient": "left", "values": [4,6,8,10,12,14,16], "format": "d", "title": "|B| [%]"}},
               "y2": {"field": "hi"}
             }},
            {"mark": {"type": "line", "color": "#000000", "strokeWidth": 1.5},
             "encoding": {
               "x": {"field": "g", "type": "quantitative", "axis": {"orient": "top", "values": [0,2,4,6,8,10,12], "labels": false, "title": null}},
               "y": {"field": "m", "type": "quantitative", "axis": {"orient": "right", "values": [4,6,8,10,12,14,16], "labels": false, "title": null}}
             }}
          ],
          "resolve": {"axis": {"x": "independent", "y": "independent"}}
        }
      ],
      "spacing": 139.5,
      "bounds": "flush",
      "resolve": {"scale": {"color": "independent", "stroke": "independent", "fill": "independent"}, "legend": {"color": "independent", "stroke": "independent", "fill": "independent"}}
    }
  ]
}
